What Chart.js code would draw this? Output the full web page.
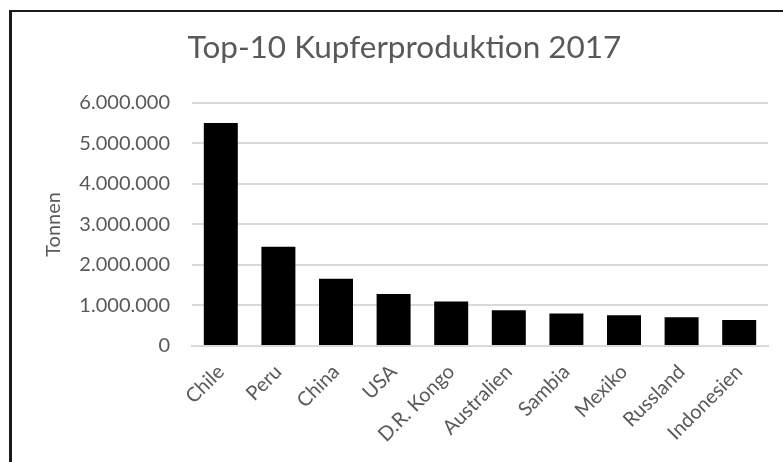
<!DOCTYPE html>
<html>
<head>
<meta charset="utf-8">
<script src="https://cdn.jsdelivr.net/npm/chart.js@4.4.1/dist/chart.umd.min.js"></script>
<style>
    html, body { margin: 0; padding: 0; background: #fff; overflow: hidden; }
    body { width: 783px; height: 462px; position: relative; }
    .frame {
        position: absolute; left: 9px; top: 10px; width: 800px; height: 470px;
        border-left: 3px solid #1a1a1a; border-top: 2px solid #1a1a1a;
    }
    .chart-box { position: absolute; left: 12px; top: 12px; width: 785px; height: 450px; }
</style>
</head>
<body>
<div class="frame"></div>
<div class="chart-box"><canvas id="copperChart"></canvas></div>
<script>
const countries = ['Chile', 'Peru', 'China', 'USA', 'D.R. Kongo', 'Australien', 'Sambia', 'Mexiko', 'Russland', 'Indonesien'];
const tonnes = [5500000, 2450000, 1660000, 1280000, 1100000, 880000, 800000, 760000, 710000, 640000];
const yTicks = [0, 1000000, 2000000, 3000000, 4000000, 5000000, 6000000];

const grey = '#595959';
const fontFamily = 'Lato, "Liberation Sans", sans-serif';

function formatDe(v) {
    return String(v).replace(/\B(?=(\d{3})+(?!\d))/g, '.');
}

new Chart(document.getElementById('copperChart'), {
    type: 'bar',
    data: {
        labels: countries,
        datasets: [{
            data: tonnes,
            backgroundColor: '#000',
            borderWidth: 0,
            categoryPercentage: 1,
            barPercentage: 0.59
        }]
    },
    options: {
        responsive: true,
        maintainAspectRatio: false,
        animation: false,
        layout: { padding: 0 },
        plugins: {
            legend: { display: false },
            tooltip: { enabled: false },
            title: {
                display: true,
                text: 'Top-10 Kupferproduktion 2017',
                color: grey,
                font: { family: fontFamily, size: 31.5, weight: 'normal' },
                padding: { top: 17, bottom: 36 }
            }
        },
        scales: {
            x: {
                grid: { display: false },
                border: { color: '#d9d9d9', width: 2 },
                ticks: {
                    color: grey,
                    font: { family: fontFamily, size: 20 },
                    minRotation: 45,
                    maxRotation: 45,
                    padding: 6
                },
                afterFit: s => { s.height = 116; }
            },
            y: {
                min: 0,
                max: 6000000,
                afterBuildTicks: s => { s.ticks = yTicks.map(v => ({ value: v })); },
                grid: { color: '#d9d9d9', lineWidth: 2, drawTicks: false },
                border: { display: false },
                ticks: {
                    color: grey,
                    font: { family: fontFamily, size: 20 },
                    padding: 22,
                    callback: v => formatDe(v)
                },
                title: {
                    display: true,
                    text: 'Tonnen',
                    color: grey,
                    font: { family: fontFamily, size: 20 },
                    padding: { top: 30, bottom: 0 }
                },
                afterFit: s => { s.width = 180; }
            },
            // empty right-hand strip so the plot stops short of the frame edge
            yRight: {
                position: 'right',
                grid: { display: false, drawTicks: false },
                border: { display: false },
                ticks: { display: false },
                afterFit: s => { s.width = 29; }
            }
        }
    }
});
</script>
</body>
</html>
